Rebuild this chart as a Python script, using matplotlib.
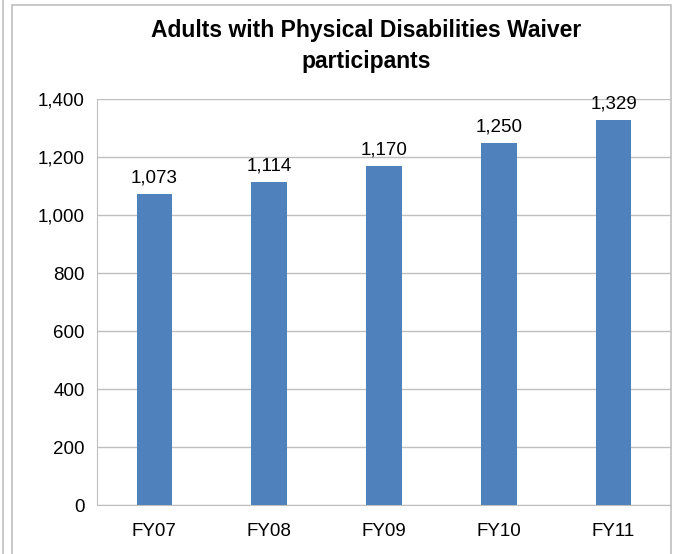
import matplotlib
matplotlib.use("Agg")
import matplotlib.pyplot as plt
from matplotlib.patches import Rectangle
from matplotlib.lines import Line2D

categories = ["FY07", "FY08", "FY09", "FY10", "FY11"]
values = [1073, 1114, 1170, 1250, 1329]
yticks = [0, 200, 400, 600, 800, 1000, 1200, 1400]
title = "Adults with Physical Disabilities Waiver\nparticipants"

W, H = 678, 554
fig = plt.figure(figsize=(W / 100, H / 100), dpi=100)
fam = ["Liberation Sans Narrow", "Liberation Sans", "DejaVu Sans"]
plt.rcParams["font.family"] = fam

# outer decorations
fig.add_artist(Line2D([3 / W, 3 / W], [0, 1], color="#c0c0c0", lw=1.2))
fig.add_artist(Rectangle((12 / W, -0.05), (671 - 12) / W, (H + 30 - 7) / H - 0.0,
                         fill=False, edgecolor="#bfbfbf", lw=1.2,
                         transform=fig.transFigure))

left, right, top, bottom = 97, 671, 99, 505
ax = fig.add_axes([left / W, 1 - bottom / H, (right - left) / W, (bottom - top) / H])

x = list(range(len(categories)))
bars = ax.bar(x, values, width=0.31, color="#4F81BD", zorder=3)
ax.set_xlim(-0.5, len(categories) - 0.5)
ax.set_ylim(0, 1400)
ax.set_yticks(yticks)
ax.set_yticklabels([f"{v:,}" for v in yticks], fontsize=13.5)
ax.set_xticks(x)
ax.set_xticklabels(categories, fontsize=13.5)
ax.yaxis.grid(True, color="#bfbfbf", lw=1, zorder=0)
ax.tick_params(axis="both", length=0)
ax.tick_params(axis="y", pad=9)
ax.tick_params(axis="x", pad=13)
for s in ["top", "right"]:
    ax.spines[s].set_visible(False)
ax.spines["left"].set_color("#bfbfbf")
ax.spines["bottom"].set_color("#bfbfbf")

for xi, v in zip(x, values):
    ax.annotate(f"{v:,}", (xi, v), xytext=(0, 5), textcoords="offset points",
                ha="center", va="bottom", fontsize=13.5)

fig.text(366 / W, 1 - 46 / H, title, ha="center", va="center",
         fontsize=16.5, fontweight="bold", linespacing=1.4)

fig.savefig("out.png", dpi=100)
